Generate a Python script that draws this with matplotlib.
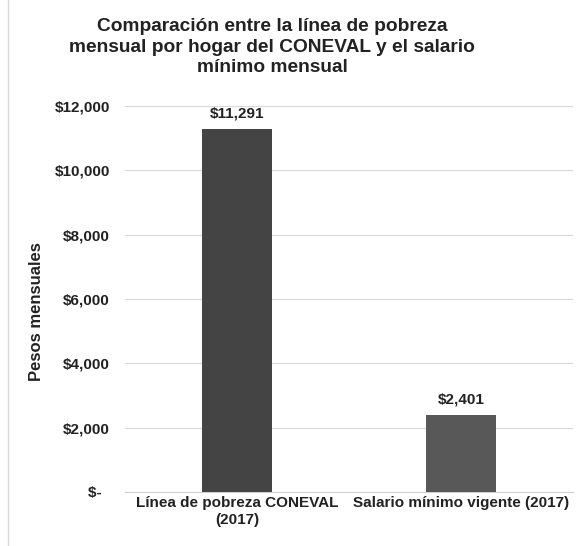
import matplotlib
matplotlib.use("Agg")
import matplotlib.pyplot as plt
from matplotlib.ticker import FuncFormatter
from matplotlib.lines import Line2D

categories = ["Línea de pobreza CONEVAL\n(2017)", "Salario mínimo vigente (2017)"]
values = [11291, 2401]
bar_colors = ["#444444", "#585858"]
yticks = [0, 2000, 4000, 6000, 8000, 10000, 12000]

plt.rcParams['font.family'] = ['Liberation Sans', 'DejaVu Sans']

fig = plt.figure(figsize=(5.84, 5.46), dpi=100)
ax = fig.add_axes([125/584, 1-492/546, 448/584, (492-106)/546])

x = range(len(categories))
bars = ax.bar(x, values, width=0.31, color=bar_colors, zorder=3)
ax.set_xlim(-0.5, 1.5)
ax.set_ylim(0, 12000)
ax.set_yticks(yticks)
ax.yaxis.set_major_formatter(FuncFormatter(lambda v, p: "$-  " if v == 0 else f"${v:,.0f}"))
ax.set_xticks(list(x))
ax.set_xticklabels(categories, fontsize=11, fontweight='bold', color='#222222', linespacing=1.25)
for lab in ax.get_yticklabels():
    lab.set_fontweight('bold')
    lab.set_fontsize(11)
    lab.set_color('#222222')
ax.tick_params(axis='both', length=0)
ax.tick_params(axis='y', pad=11)
ax.tick_params(axis='x', pad=3)
ax.grid(axis='y', color='#d9d9d9', linewidth=0.8, zorder=0)
for s in ['top', 'right', 'left']:
    ax.spines[s].set_visible(False)
ax.spines['bottom'].set_color('#d0d0d0')

for b, v in zip(bars, values):
    ax.text(b.get_x() + b.get_width()/2, v + 250, f"${v:,.0f}", ha='center', va='bottom',
            fontsize=11, fontweight='bold', color='#222222')

ax.set_ylabel("Pesos mensuales", fontsize=12, fontweight='bold', color='#222222')
ax.yaxis.set_label_coords(-(125-44)/448, (492-312)/386)

fig.text(272/584, 1-47/546, "Comparación entre la línea de pobreza\nmensual por hogar del CONEVAL y el salario\nmínimo mensual",
         ha='center', va='center', fontsize=13.8, fontweight='bold', color='#222222', linespacing=1.3)

fig.add_artist(Line2D([8/584, 8/584], [0, 1], color='#d8d8d8', linewidth=1, transform=fig.transFigure))

fig.savefig("out.png", dpi=100, facecolor='white')
